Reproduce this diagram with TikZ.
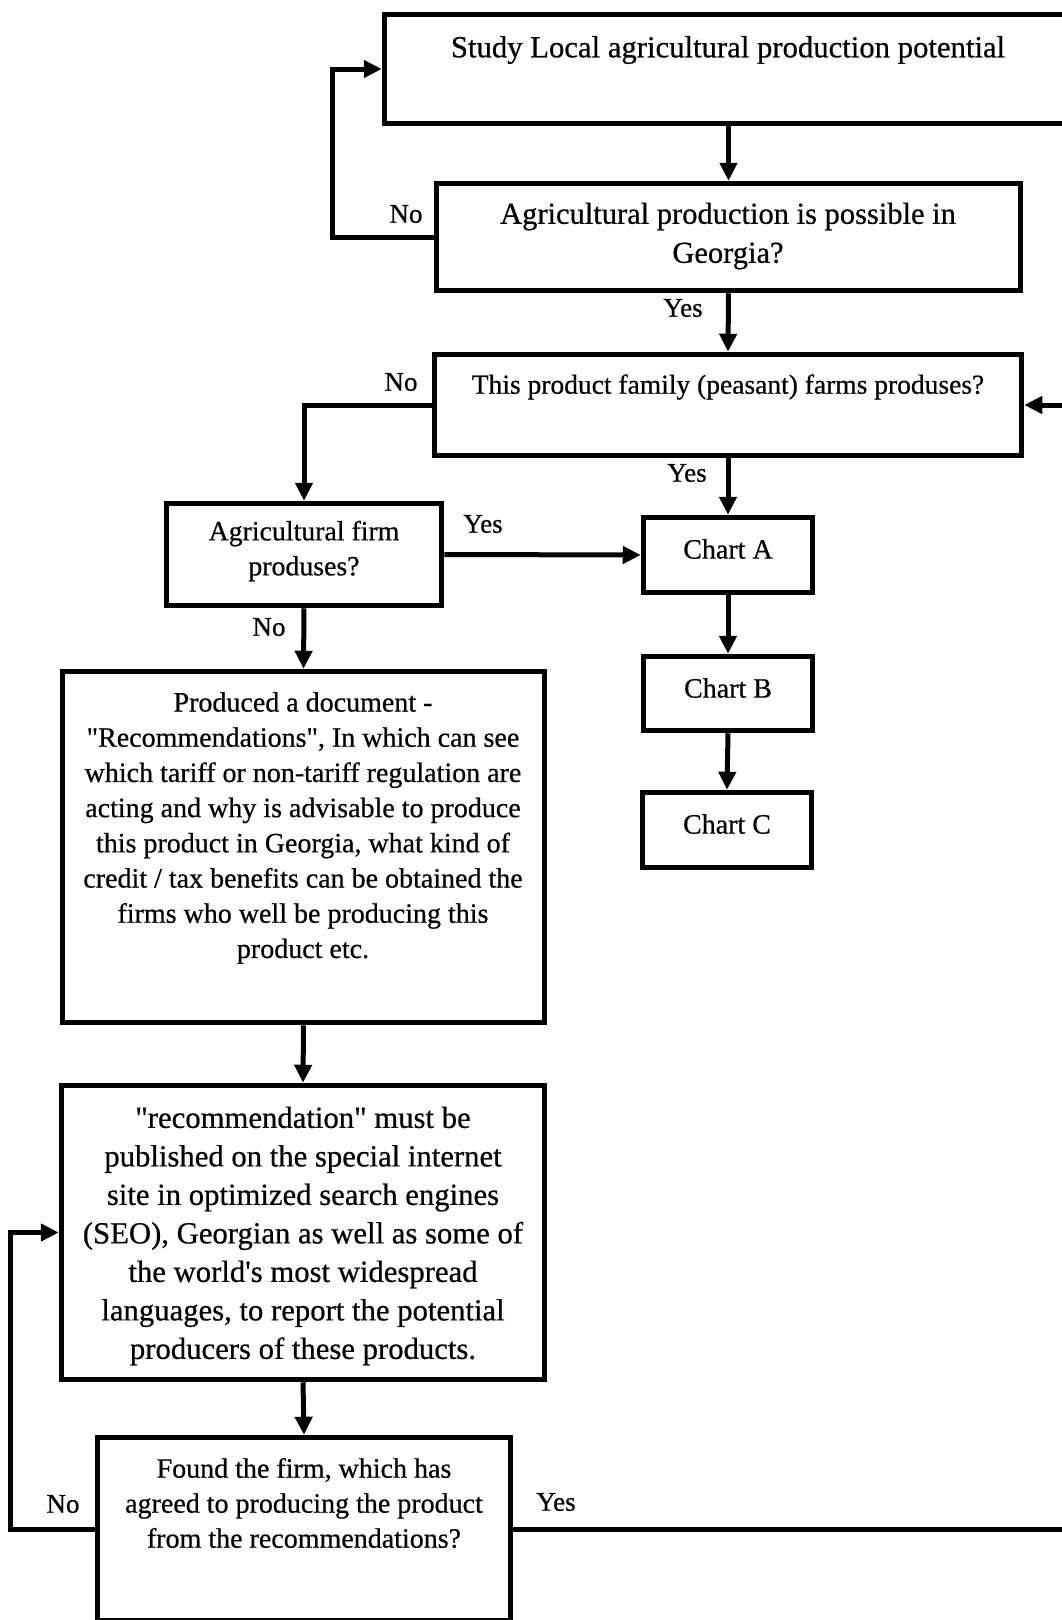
\documentclass[tikz,border=0pt]{standalone}
\usepackage{fontspec}
\setmainfont{Liberation Serif}[FakeBold=0.6]
\usetikzlibrary{arrows.meta,positioning}

\tikzset{
  box/.style={draw, line width=5.5pt, inner sep=0pt},
  txt/.style={align=center, inner sep=0pt},
  lbl/.style={inner sep=0pt, font=\fontsize{27}{30}\selectfont},
  link/.style={line width=5pt, -{Triangle[length=18pt,width=17pt]}},
  line/.style={line width=5pt},
}

\begin{document}
\begin{tikzpicture}[x=1pt,y=-1pt]
\useasboundingbox (0,0) rectangle (1062,1620);
\clip (0,0) rectangle (1062,1620);

% boxes
\node[box, minimum width=688, minimum height=109] (study) at (728.5,69) {};
\node[box, minimum width=584, minimum height=107] (possible) at (728.5,237) {};
\node[box, minimum width=587, minimum height=101] (family) at (728,405) {};
\node[box, minimum width=275, minimum height=102] (firm) at (304,554.5) {};
\node[box, minimum width=169, minimum height=75] (chartA) at (728,555) {};
\node[box, minimum width=169, minimum height=74] (chartB) at (728,693.5) {};
\node[box, minimum width=169, minimum height=75] (chartC) at (727,830) {};
\node[box, minimum width=482, minimum height=351] (recom) at (303.5,847) {};
\node[box, minimum width=483, minimum height=294] (publish) at (303,1232.5) {};
\node[box, minimum width=413, minimum height=183] (found) at (304,1529) {};

% texts
\node[txt, font=\fontsize{30.7}{36}\selectfont] (studyT) at (728,50) {Study Local agricultural production potential};
\node[txt, font=\fontsize{30.5}{39}\selectfont] (possibleT) at (728,236) {Agricultural production is possible in\\Georgia?};
\node[txt, font=\fontsize{27.5}{35}\selectfont] (familyT) at (728,387) {This product family (peasant) farms produses?};
\node[txt, font=\fontsize{27.8}{35}\selectfont] (firmT) at (304,551) {Agricultural firm\\produses?};
\node[txt, font=\fontsize{28}{35}\selectfont] (chartAT) at (728,549) {Chart A};
\node[txt, font=\fontsize{28}{35}\selectfont] (chartBT) at (728,688) {Chart B};
\node[txt, font=\fontsize{28}{35}\selectfont] (chartCT) at (727,824) {Chart C};
\node[txt, font=\fontsize{28}{35.2}\selectfont] (recomT) at (303,828) {Produced a document -\\\textquotedbl Recommendations\textquotedbl, In which can see\\which tariff or non-tariff regulation are\\acting and why is advisable to produce\\this product in Georgia, what kind of\\credit / tax benefits can be obtained the\\firms who well be producing this\\product etc.};
\node[txt, font=\fontsize{30.7}{38.5}\selectfont] (publishT) at (303,1236) {\textquotedbl recommendation\textquotedbl{} must be\\published on the special internet\\site in optimized search engines\\(SEO), Georgian as well as some of\\the world\textquotesingle s most widespread\\languages, to report the potential\\producers of these products.};
\node[txt, font=\fontsize{28}{35}\selectfont] (foundT) at (304,1503) {Found the firm, which has\\agreed to producing the product\\from the recommendations?};

% connectors
\coordinate (inFamily) at (1062,405);
\coordinate (outFound) at (1062,1529);
\draw[link] (study.south) -- (possible.north);
\draw[link] (possible.west) -- +(-101,0) |- (study.west);
\draw[link] (possible.south) -- (family.north);
\draw[link] (inFamily) -- (family.east);
\draw[link] (family.west) -| (firm.north);
\draw[link] (family.south) -- (chartA.north);
\draw[link] (firm.east) -- (chartA.west);
\draw[link] (chartA.south) -- (chartB.north);
\draw[link] (chartB.south) -- (chartC.north);
\draw[link] (firm.south) -- (recom.north);
\draw[link] (recom.south) -- (publish.north);
\draw[link] (publish.south) -- (found.north);
\draw[link] (found.west) -- +(-84,0) |- (publish.west);
\draw[line] (found.east) -- (outFound);

% yes / no
\node[lbl] (no1) at (406,214) {No};
\node[lbl] (yes1) at (683,308) {Yes};
\node[lbl] (no2) at (401,382) {No};
\node[lbl] (yes2) at (687,473) {Yes};
\node[lbl] (yes3) at (483,524) {Yes};
\node[lbl] (no3) at (269,627) {No};
\node[lbl] (no4) at (63,1504) {No};
\node[lbl] (yes4) at (556,1502) {Yes};
\end{tikzpicture}
\end{document}
